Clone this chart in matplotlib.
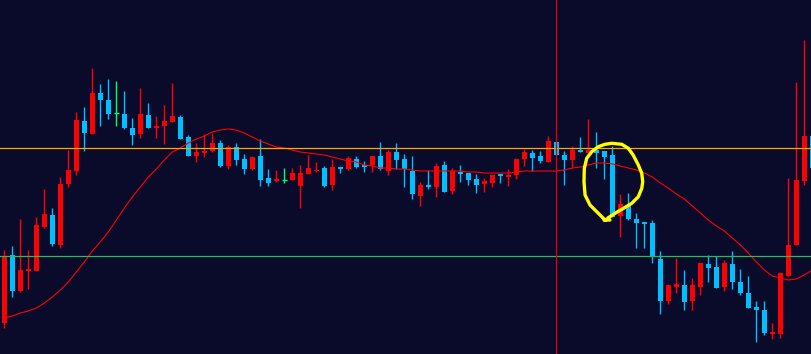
import numpy as np
import matplotlib.pyplot as plt

# candle data (price points), one entry per bar
opens = [31, 99, 63, 83, 83, 127, 139, 109, 170, 183, 233, 220, 261, 254, 241, 240, 226, 220, 239, 226,
         228, 232, 237, 217, 198, 201, 203, 211, 188, 207, 195, 185, 198, 176, 173, 174, 174, 168, 180, 183,
         186, 169, 187, 185, 195, 189, 189, 198, 183, 202, 195, 183, 158, 169, 167, 189, 163, 182, 181, 175,
         170, 171, 180, 177, 179, 195, 201, 198, 192, 212, 199, 194, 204, 201, 204, 203, 199, 138, 149, 135,
         132, 131, 95, 53, 67, 69, 53, 67, 90, 87, 67, 90, 72, 61, 47, 44, 20, 20, 78, 109,
         173, 218]
highs = [104, 108, 135, 104, 137, 165, 146, 177, 204, 242, 247, 286, 270, 275, 273, 263, 236, 266, 251, 238,
         249, 271, 239, 219, 211, 220, 221, 214, 209, 211, 200, 197, 215, 185, 184, 186, 186, 189, 199, 192,
         188, 195, 187, 198, 198, 193, 198, 212, 204, 211, 200, 198, 172, 184, 191, 193, 186, 189, 181, 180,
         176, 180, 180, 185, 195, 205, 204, 203, 218, 212, 203, 208, 217, 235, 222, 203, 208, 160, 161, 141,
         132, 134, 103, 69, 96, 84, 76, 91, 99, 98, 94, 103, 85, 78, 53, 53, 31, 82, 176, 272,
         314, 218]
lows = [26, 57, 62, 65, 83, 126, 108, 106, 167, 179, 203, 220, 228, 235, 228, 225, 209, 216, 226, 216,
        210, 232, 215, 198, 192, 197, 202, 187, 185, 189, 180, 184, 168, 168, 172, 171, 174, 146, 180, 182,
        167, 164, 181, 184, 186, 182, 182, 184, 179, 185, 167, 155, 148, 165, 157, 162, 160, 172, 169, 161,
        162, 167, 171, 168, 175, 188, 183, 191, 192, 199, 169, 187, 202, 201, 186, 175, 137, 117, 134, 106,
        106, 91, 40, 50, 61, 44, 44, 59, 72, 66, 63, 65, 59, 46, 12, 19, 15, 16, 78, 109,
        169, 186]
closes = [97, 63, 84, 85, 129, 140, 110, 170, 184, 234, 221, 261, 254, 240, 241, 226, 219, 240, 226, 228,
          233, 238, 215, 198, 202, 203, 211, 188, 207, 194, 185, 197, 174, 171, 175, 174, 181, 181, 186, 184,
          168, 187, 185, 196, 187, 187, 198, 185, 202, 194, 185, 160, 169, 167, 188, 162, 183, 180, 174, 169,
          173, 179, 178, 179, 195, 202, 196, 193, 213, 199, 194, 204, 202, 204, 201, 197, 137, 150, 135, 131,
          130, 98, 53, 69, 70, 52, 69, 91, 86, 66, 91, 72, 61, 46, 44, 21, 22, 81, 109, 174,
          218, 186]
ma = [36, 38, 41, 43, 46, 51, 57, 64, 72, 82, 92, 103, 112, 122, 134, 146, 157, 167, 177, 185,
      194, 202, 206, 211, 215, 218, 222, 224, 225, 224, 221, 217, 213, 210, 207, 206, 204, 202, 201, 200,
      199, 197, 195, 193, 192, 189, 188, 186, 186, 185, 185, 184, 183, 183, 183, 183, 183, 183, 182, 182,
      181, 181, 181, 181, 182, 183, 183, 183, 183, 183, 184, 186, 187, 189, 191, 191, 190, 188, 186, 184,
      181, 177, 171, 166, 160, 155, 148, 141, 134, 128, 123, 116, 109, 101, 92, 84, 78, 76, 74, 75,
      79, 84]
resistance = 206
support = 98
cursor_bar = 69

# hand drawn circle around the big drop
circle_x = [75.7, 75.0, 75.09, 74.25, 73.21, 72.59, 72.46, 72.5, 72.8, 73.43, 74.25, 75.09, 75.93,
            77.18, 78.0, 78.6, 79.25, 79.68, 79.8, 79.68, 79.25, 78.43, 77.4, 76.34, 75.5, 75.18]
circle_y = [134, 134, 134, 140.7, 149, 159, 172.3, 185.7, 195.7, 202.3, 207.3, 209.7, 210.7,
            209.7, 205.7, 199, 189, 180.7, 172.3, 165.7, 157.3, 150.7, 145.7, 140.7, 136.3, 134]

bg = '#0a0a2b'
up_col = '#ff0000'
down_col = '#00bfff'
doji_col = '#00ff66'

o = np.array(opens, dtype=float)
h = np.array(highs, dtype=float)
l = np.array(lows, dtype=float)
c = np.array(closes, dtype=float)
x = np.arange(len(o))

up = c > o
down = c < o
flat = c == o
colors = np.where(up, up_col, np.where(down, down_col, doji_col))

fig = plt.figure(figsize=(8.12, 3.54), dpi=100)
fig.patch.set_facecolor(bg)
ax = fig.add_axes([0, 0, 1, 1])
ax.set_facecolor(bg)

w = 0.62
ax.vlines(x, l, h, colors=colors, linewidth=1.0, zorder=2)
body = ~flat
ax.bar(x[body], np.abs(c - o)[body], bottom=np.minimum(o, c)[body], width=w,
       color=colors[body], linewidth=0, zorder=3)
ax.hlines(o[flat], x[flat] - w / 2, x[flat] + w / 2, colors=doji_col, linewidth=1.0, zorder=3)

ax.plot(x, ma, color='#ff0000', linewidth=0.8, zorder=4)
ax.axhline(resistance, color='#ffa500', linewidth=0.9, zorder=5)
ax.axhline(support, color='#2fb85a', linewidth=0.9, zorder=5)
ax.axvline(cursor_bar, color='#e00000', linewidth=0.9, zorder=5)

ax.plot(circle_x, circle_y, color='#ffff00', linewidth=2.4, solid_capstyle='round',
        solid_joinstyle='round', zorder=6)

ax.set_xlim(-0.54, -0.54 + 812 / 8)
ax.set_ylim(0, 354)
ax.axis('off')

fig.savefig('out.png', dpi=100, facecolor=bg)
